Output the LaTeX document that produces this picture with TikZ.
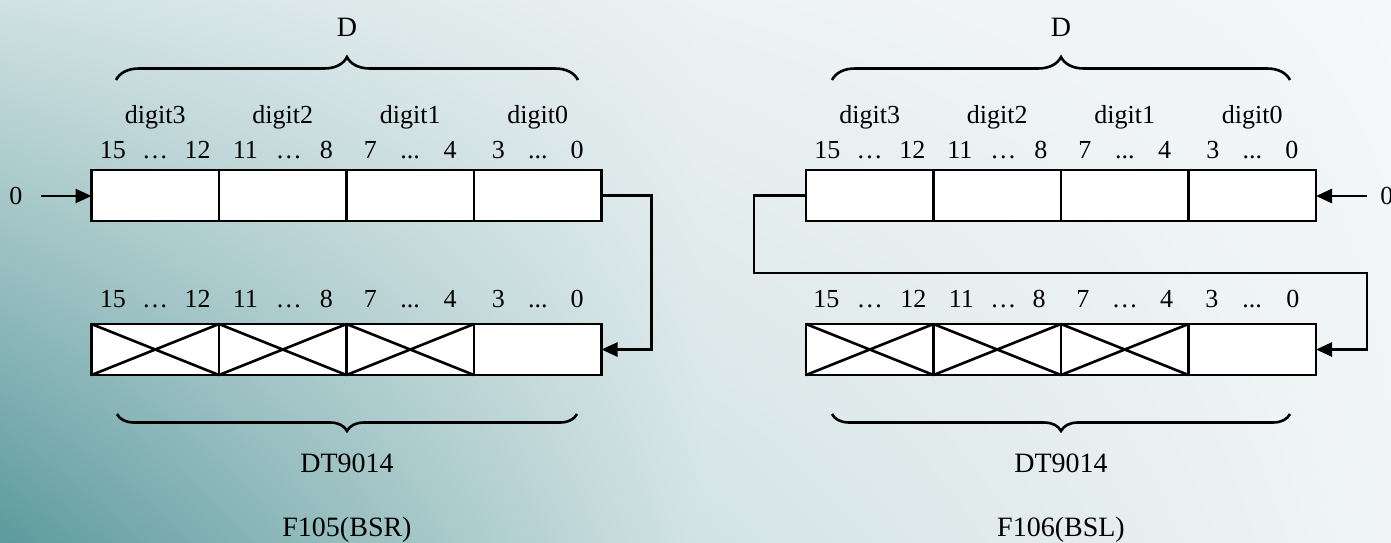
\documentclass[tikz,border=0pt]{standalone}
\usepackage{fontspec}
\setmainfont{Liberation Serif}
\usetikzlibrary{arrows.meta, positioning, calc, decorations.pathreplacing, shadings}
\definecolor{bgtl}{HTML}{D0E1E2}
\definecolor{bgbl}{HTML}{5C9A9D}
\definecolor{bgtm}{HTML}{EDF2F3}
\definecolor{bgbm}{HTML}{D3E3E4}
\definecolor{bgtr}{HTML}{F5F7F8}
\definecolor{bgbr}{HTML}{F1F5F6}
\newcommand{\bitspan}[2]{\makebox[#1][s]{#2}}
\frenchspacing

\begin{document}
\begin{tikzpicture}[x=0.5pt, y=-0.5pt,
    cell/.style={draw, fill=white, line width=1.4pt, minimum width=63.75pt, minimum height=25.5pt, inner sep=0pt, outer sep=0pt},
    lbl/.style={font=\fontsize{13}{15}\selectfont, anchor=base, inner sep=0pt},
    big/.style={font=\fontsize{14}{16}\selectfont, anchor=base, inner sep=0pt},
    wire/.style={line width=1.3pt},
    arr/.style={wire, -{Triangle[length=8pt, width=7pt]}},
    brc/.style={line width=1.3pt, decorate, decoration={brace, amplitude=#1}}]
    % background
    \useasboundingbox (0,0) rectangle (1391,542);
    \shade[upper left=bgtl, lower left=bgbl, upper right=bgtm, lower right=bgbm] (0,0) rectangle (700,542);
    \shade[upper left=bgtm, lower left=bgbm, upper right=bgtr, lower right=bgbr] (700,0) rectangle (1391,542);

    % F105 (BSR)
    \node[cell] (L3) at (155.25,195.5) {};
    \node[cell, right=0pt of L3] (L2) {};
    \node[cell, right=0pt of L2] (L1) {};
    \node[cell, right=0pt of L1] (L0) {};
    \node[cell] (M3) at (155.25,349.5) {};
    \node[cell, right=0pt of M3] (M2) {};
    \node[cell, right=0pt of M2] (M1) {};
    \node[cell, right=0pt of M1] (M0) {};
    \foreach \c in {M3,M2,M1}
        \draw[wire] (\c.north west) -- (\c.south east) (\c.south west) -- (\c.north east);

    \node[lbl] (dL3) at (L3 |- 0,123) {digit3};
    \node[lbl] (dL2) at (L2 |- 0,123) {digit2};
    \node[lbl] (dL1) at (L1 |- 0,123) {digit1};
    \node[lbl] (dL0) at (L0 |- 0,123) {digit0};
    \node[lbl] (bL3) at (L3 |- 0,158) {\bitspan{55.5pt}{15 … 12}};
    \node[lbl] (bL2) at (L2 |- 0,158) {\bitspan{50pt}{11 … 8}};
    \node[lbl] (bL1) at (L1 |- 0,158) {\bitspan{46.5pt}{7 ... 4}};
    \node[lbl] (bL0) at (L0 |- 0,158) {\bitspan{46pt}{3 ... 0}};
    \node[lbl] (bM3) at (M3 |- 0,307) {\bitspan{55.5pt}{15 … 12}};
    \node[lbl] (bM2) at (M2 |- 0,307) {\bitspan{50pt}{11 … 8}};
    \node[lbl] (bM1) at (M1 |- 0,307) {\bitspan{46.5pt}{7 ... 4}};
    \node[lbl] (bM0) at (M0 |- 0,307) {\bitspan{46pt}{3 ... 0}};

    \draw[brc=11.5pt] (116,80) -- (578,80);
    \node[big] (DL) at (347,36) {D};
    \draw[brc=8.5pt] (577,414) -- (117,414);
    \node[big] (regL) at (347,472) {DT9014};
    \node[big] (fnL) at (347,536) {F105(BSR)};

    \node[lbl, anchor=center] (inL) at (16,196) {0};
    \draw[arr, shorten <=9pt] (inL.east) -- (inL.east -| L3.west);
    \draw[arr] (L0.east) -- ++(50,0) |- (M0.east);

    % F106 (BSL)
    \node[cell] (R3) at (869.75,195.5) {};
    \node[cell, right=0pt of R3] (R2) {};
    \node[cell, right=0pt of R2] (R1) {};
    \node[cell, right=0pt of R1] (R0) {};
    \node[cell] (N3) at (869.75,349.5) {};
    \node[cell, right=0pt of N3] (N2) {};
    \node[cell, right=0pt of N2] (N1) {};
    \node[cell, right=0pt of N1] (N0) {};
    \foreach \c in {N3,N2,N1}
        \draw[wire] (\c.north west) -- (\c.south east) (\c.south west) -- (\c.north east);

    \node[lbl] (dR3) at (R3 |- 0,123) {digit3};
    \node[lbl] (dR2) at (R2 |- 0,123) {digit2};
    \node[lbl] (dR1) at (R1 |- 0,123) {digit1};
    \node[lbl] (dR0) at (R0 |- 0,123) {digit0};
    \node[lbl] (bR3) at (R3 |- 0,158) {\bitspan{55.5pt}{15 … 12}};
    \node[lbl] (bR2) at (R2 |- 0,158) {\bitspan{50pt}{11 … 8}};
    \node[lbl] (bR1) at (R1 |- 0,158) {\bitspan{46.5pt}{7 ... 4}};
    \node[lbl] (bR0) at (R0 |- 0,158) {\bitspan{46pt}{3 ... 0}};
    \node[lbl] (bN3) at (N3 |- 0,307) {\bitspan{56.5pt}{15 … 12}};
    \node[lbl] (bN2) at (N2 |- 0,307) {\bitspan{48.5pt}{11 … 8}};
    \node[lbl] (bN1) at (N1 |- 0,307) {\bitspan{48.5pt}{7 … 4}};
    \node[lbl] (bN0) at (N0 |- 0,307) {\bitspan{47pt}{3 ... 0}};

    \draw[brc=11.5pt] (832,80) -- (1290,80);
    \node[big] (DR) at (1061,36) {D};
    \draw[brc=8.5pt] (1290,414) -- (832,414);
    \node[big] (regR) at (1061,472) {DT9014};
    \node[big] (fnR) at (1061,536) {F106(BSL)};

    \node[lbl, anchor=west] (inR) at (1380,196) {0};
    \draw[arr] (inR.west -| 1367,0) -- (inR.west -| R0.east);
    \coordinate (loopR) at (1367,273);
    \draw[arr] (R3.west) -- ++(-52,0) |- (loopR) |- (N0.east);
\end{tikzpicture}
\end{document}
